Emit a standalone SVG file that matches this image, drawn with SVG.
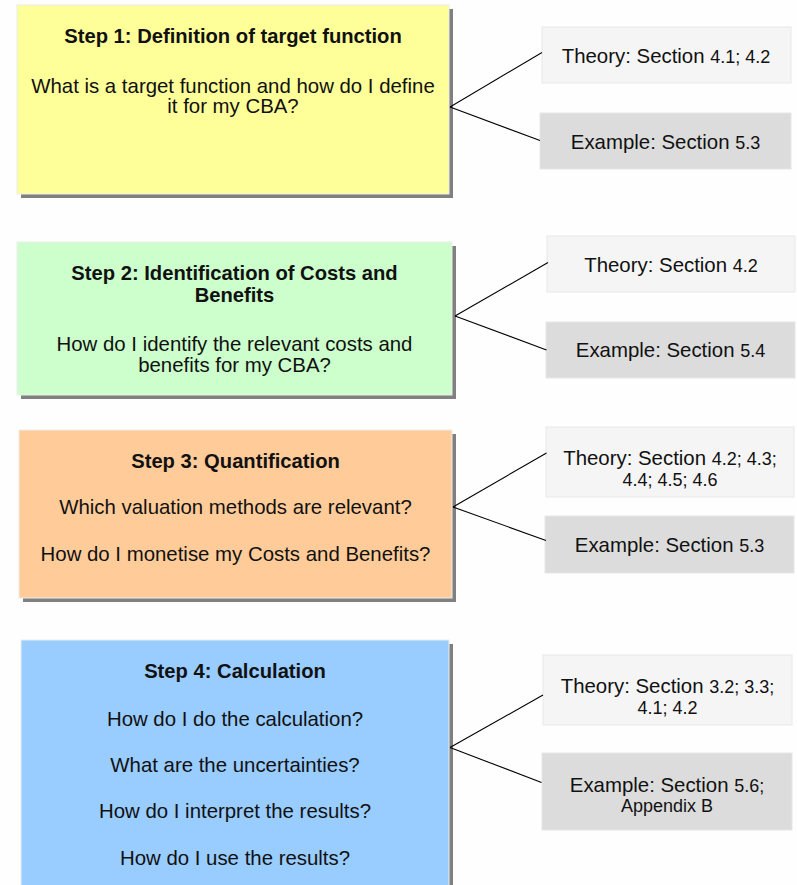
<svg xmlns="http://www.w3.org/2000/svg" width="797" height="885" viewBox="0 0 797 885">
<style>
text{font-family:"Liberation Sans",Arial,sans-serif;font-size:20.4px;fill:#111;text-anchor:middle}
.b{font-weight:bold;font-size:20.2px}
.n{font-size:18px}
.sh{fill:#808080}
.step{stroke:#ececec;stroke-width:1}
.th{fill:#f5f5f5;stroke:#e8e8e8;stroke-width:1}
.ex{fill:#dcdcdc;stroke:#e6e6e6;stroke-width:1}
.con line{stroke:#000;stroke-width:1.1}
</style>
<rect width="797" height="885" fill="#fefefe"/>

<g id="step1">
<rect class="sh" x="21" y="9" width="432" height="189"/>
<rect class="step" x="17" y="5" width="432" height="189" fill="#ffff99"/>
<text class="b" x="233" y="43">Step 1: Definition of target function</text>
<text x="233" y="92.5">What is a target function and how do I define</text>
<text x="233" y="113">it for my CBA?</text>
</g>

<g id="step2">
<rect class="sh" x="21" y="246" width="435" height="153"/>
<rect class="step" x="17" y="242" width="435" height="153" fill="#ccffcc"/>
<text class="b" x="234.5" y="280">Step 2: Identification of Costs and</text>
<text class="b" x="234.5" y="301.5">Benefits</text>
<text x="234.5" y="350.5">How do I identify the relevant costs and</text>
<text x="234.5" y="371.5">benefits for my CBA?</text>
</g>

<g id="step3">
<rect class="sh" x="23" y="434" width="433" height="168"/>
<rect class="step" x="19" y="430" width="433" height="168" fill="#ffcc99"/>
<text class="b" x="235.5" y="467.5">Step 3: Quantification</text>
<text x="235.5" y="514">Which valuation methods are relevant?</text>
<text x="235.5" y="560.5">How do I monetise my Costs and Benefits?</text>
</g>

<g id="step4">
<rect class="sh" x="25" y="644" width="428" height="250"/>
<rect class="step" x="21" y="640" width="428" height="250" fill="#99ccff"/>
<text class="b" x="235" y="678">Step 4: Calculation</text>
<text x="235" y="725.5">How do I do the calculation?</text>
<text x="235" y="771.5">What are the uncertainties?</text>
<text x="235" y="818">How do I interpret the results?</text>
<text x="235" y="865">How do I use the results?</text>
</g>

<g id="theory1">
<rect class="th" x="542" y="27" width="249" height="56"/>
<text x="666" y="63">Theory: Section <tspan class="n">4.1; 4.2</tspan></text>
</g>
<g id="example1">
<rect class="ex" x="540" y="113" width="251" height="56"/>
<text x="665.5" y="149">Example: Section <tspan class="n">5.3</tspan></text>
</g>

<g id="theory2">
<rect class="th" x="547" y="236" width="248" height="56"/>
<text x="671" y="272">Theory: Section <tspan class="n">4.2</tspan></text>
</g>
<g id="example2">
<rect class="ex" x="546" y="322" width="249" height="56"/>
<text x="670.5" y="357">Example: Section <tspan class="n">5.4</tspan></text>
</g>

<g id="theory3">
<rect class="th" x="546" y="427" width="248" height="70"/>
<text x="670" y="465">Theory: Section <tspan class="n">4.2; 4.3;</tspan></text>
<text class="n" x="670" y="486">4.4; 4.5; 4.6</text>
</g>
<g id="example3">
<rect class="ex" x="545" y="516" width="249" height="57"/>
<text x="669.5" y="551.5">Example: Section <tspan class="n">5.3</tspan></text>
</g>

<g id="theory4">
<rect class="th" x="543" y="655" width="249" height="70"/>
<text x="667.5" y="693">Theory: Section <tspan class="n">3.2; 3.3;</tspan></text>
<text class="n" x="667.5" y="714">4.1; 4.2</text>
</g>
<g id="example4">
<rect class="ex" x="542" y="753" width="250" height="77"/>
<text x="667" y="792">Example: Section <tspan class="n">5.6;</tspan></text>
<text class="n" x="667" y="812">Appendix B</text>
</g>

<g id="connectors" class="con">
<line x1="450" y1="107" x2="542" y2="52.5"/>
<line x1="450" y1="107" x2="540" y2="140.5"/>
<line x1="455" y1="316" x2="548" y2="262.5"/>
<line x1="455" y1="316" x2="546.5" y2="350"/>
<line x1="453" y1="507" x2="546.5" y2="453"/>
<line x1="453" y1="507" x2="546" y2="540.5"/>
<line x1="450" y1="747.5" x2="543" y2="695"/>
<line x1="450" y1="747.5" x2="541.5" y2="782.5"/>
</g>
</svg>
